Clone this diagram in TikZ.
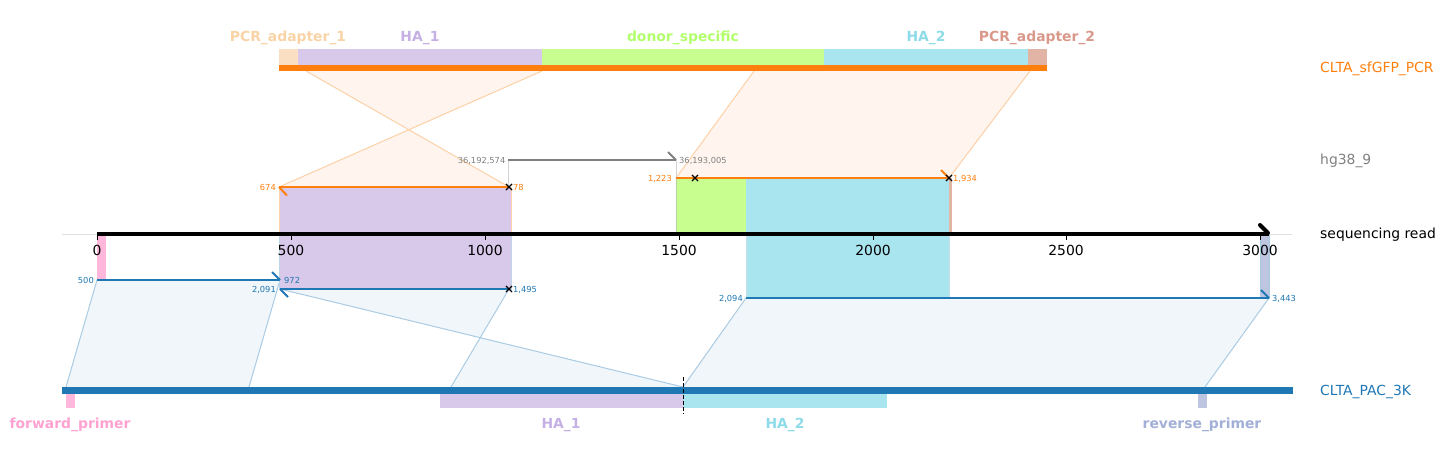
\documentclass[tikz,border=0pt]{standalone}
\usepackage{fontspec}
\setmainfont{DejaVu Sans}
\usetikzlibrary{shapes.misc}
\definecolor{orng}{HTML}{FF7F0E}
\definecolor{blu}{HTML}{1F77B4}
\definecolor{gry}{HTML}{808080}
\definecolor{fPA}{HTML}{FADFC2}
\definecolor{fHA}{HTML}{D8C8EA}
\definecolor{fDS}{HTML}{C7FE8F}
\definecolor{fHB}{HTML}{A9E5EF}
\definecolor{fPB}{HTML}{E2B4A6}
\definecolor{fFP}{HTML}{FFB8DC}
\definecolor{fRP}{HTML}{BDC5E0}
\definecolor{tPA}{HTML}{F9D3A5}
\definecolor{tHA}{HTML}{C5B0E5}
\definecolor{tDS}{HTML}{B2FF6C}
\definecolor{tHB}{HTML}{8DDBE8}
\definecolor{tPB}{HTML}{D9988A}
\definecolor{tFP}{HTML}{FFA2D2}
\definecolor{tRP}{HTML}{A2AFD6}
\definecolor{pfill}{HTML}{FFF5EE}
\definecolor{pedge}{HTML}{FDD0A6}
\definecolor{bfill}{HTML}{F1F6FA}
\definecolor{bedge}{HTML}{AACBE4}
\tikzset{
  lbl/.style={font=\fontsize{13.9}{16}\selectfont, inner sep=0},
  blbl/.style={font=\bfseries\fontsize{13.9}{16}\selectfont, inner sep=0, anchor=base},
  sml/.style={font=\fontsize{8.3}{10}\selectfont, inner sep=0},
  xmk/.style={cross out, draw=black, line width=1.1pt, minimum size=5pt, inner sep=0},
  oseg/.style={orng, line width=2.4pt},
  bseg/.style={blu, line width=2pt},
  hook/.style={line width=2pt, line cap=butt},
}
\begin{document}
\begin{tikzpicture}[x=1pt,y=-1pt]
\useasboundingbox (0,0) rectangle (1446,459);

% ---------- named coordinates ----------
\coordinate (s1a) at (279,187); \coordinate (s1b) at (509,187);
\coordinate (p1a) at (542,71);  \coordinate (p1b) at (306,71);
\coordinate (s2a) at (676,178); \coordinate (s2b) at (949,178);
\coordinate (p2a) at (754,71);  \coordinate (p2b) at (1030,71);
\coordinate (ha) at (508,160);  \coordinate (hb) at (676,160);
\coordinate (bAa) at (97,280);  \coordinate (bAb) at (280,280);
\coordinate (qAa) at (66,387);  \coordinate (qAb) at (249,387);
\coordinate (bBa) at (280,289); \coordinate (bBb) at (509,289);
\coordinate (qBa) at (683,387); \coordinate (qBb) at (451,387);
\coordinate (bCa) at (746,298); \coordinate (bCb) at (1269,298);
\coordinate (qCa) at (683,387); \coordinate (qCb) at (1205,387);

% ---------- top alignment polygons ----------
\fill[pfill] (s1a) -- (p1a) -- (p1b) -- (s1b) -- cycle;
\draw[pedge, line width=1pt] (s1a) -- (p1a) (s1b) -- (p1b);
\fill[pfill] (s2a) -- (p2a) -- (p2b) -- (s2b) -- cycle;
\draw[pedge, line width=1pt] (s2a) -- (p2a) (s2b) -- (p2b);

% ---------- bottom alignment polygons ----------
\fill[bfill] (bAa) -- (bAb) -- (qAb) -- (qAa) -- cycle;
\draw[bedge, line width=1pt] (bAa) -- (qAa) (bAb) -- (qAb);
\fill[bfill] (bBa) -- (qBa) -- (qBb) -- (bBb) -- cycle;
\draw[bedge, line width=1pt] (bBa) -- (qBa) (bBb) -- (qBb);
\fill[bfill] (bCa) -- (bCb) -- (qCb) -- (qCa) -- cycle;
\draw[bedge, line width=1pt] (bCa) -- (qCa) (bCb) -- (qCb);

% ---------- hg38 faint verticals ----------
\draw[gry!35, line width=1pt] (ha) -- (508,234) (hb) -- (676,234);

% ---------- features mapped onto the read ----------
\fill[fHA, draw=orng!35, line width=0.8pt] (279,187) rectangle (511,234);
\fill[fHA, draw=blu!30, line width=0.8pt] (279,234) rectangle (511,289);
\fill[fDS, draw=fDS!70!black!60, line width=0.6pt] (676,178) rectangle (746,234);
\fill[fHB] (746,178) rectangle (949,234);
\fill[fPB] (949,178) rectangle (952,234);
\fill[fHB, draw=blu!25, line width=0.6pt] (746,234) rectangle (949,298);
\fill[fFP] (97,234) rectangle (106,280);
\fill[fRP, draw=blu!40, line width=0.6pt] (1260,234) rectangle (1269,298);

% ---------- top PCR bar ----------
\fill[fPA] (279,49) rectangle (298,64.5);
\fill[fHA] (298,49) rectangle (542,64.5);
\fill[fDS] (542,49) rectangle (824,64.5);
\fill[fHB] (824,49) rectangle (1028,64.5);
\fill[fPB] (1028,49) rectangle (1047,64.5);
\fill[orng] (279,64.5) rectangle (1047,70.8);
\node[blbl, text=tPA] (tpa) at (288,41) {PCR\_adapter\_1};
\node[blbl, text=tHA] (tha) at (420,41) {HA\_1};
\node[blbl, text=tDS] (tds) at (683,41) {donor\_specific};
\node[blbl, text=tHB] (thb) at (926,41) {HA\_2};
\node[blbl, text=tPB] (tpb) at (1037,41) {PCR\_adapter\_2};

% ---------- sequencing read axis ----------
\draw[black!12, line width=0.8pt] (62,234) -- (1292,234);
\draw[black, line width=4pt, line cap=butt] (97,234) -- (1269,234);
\draw[black, line width=4pt, line cap=round] (1260,225) -- (1268,233);
\foreach \v/\xx in {0/97,500/291,1000/485,1500/679,2000/873,2500/1066,3000/1260}{
  \draw[black, line width=0.9pt] (\xx,234) -- (\xx,239.5);
  \node[lbl, anchor=base] (tick\v) at (\xx,255.3) {\v};
}

% ---------- hg38 segment ----------
\draw[gry, line width=2pt] (ha) -- (hb);
\draw[gry, hook] (668,152) -- (hb);
\node[sml, text=gry, anchor=base east] (hl) at (505.5,163) {36,192,574};
\node[sml, text=gry, anchor=base west] (hr) at (679,163) {36,193,005};

% ---------- PCR segments on read ----------
\draw[oseg] (s1a) -- (s1b);
\draw[orng, hook] (s1a) -- (287,195.5);
\node[xmk] (x1) at (s1b) {};
\node[sml, text=orng, anchor=base east] (l674) at (276,190) {674};
\node[sml, text=orng, anchor=base west] (l78) at (513,190) {78};
\draw[oseg] (s2a) -- (s2b);
\draw[orng, hook] (941,170) -- (s2b);
\node[xmk] (x2) at (695,178) {};
\node[xmk] (x3) at (s2b) {};
\node[sml, text=orng, anchor=base east] (l1223) at (672,181) {1,223};
\node[sml, text=orng, anchor=base west] (l1934) at (953,181) {1,934};

% ---------- PAC segments on read ----------
\draw[bseg] (bAa) -- (bAb);
\draw[blu, hook] (272,272) -- (bAb);
\node[sml, text=blu, anchor=base east] (l500) at (94,283) {500};
\node[sml, text=blu, anchor=base west] (l972) at (284,283) {972};
\draw[bseg] (bBa) -- (bBb);
\draw[blu, hook] (bBa) -- (288,297);
\node[xmk] (x4) at (bBb) {};
\node[sml, text=blu, anchor=base east] (l2091) at (276,292) {2,091};
\node[sml, text=blu, anchor=base west] (l1495) at (513,292) {1,495};
\draw[bseg] (bCa) -- (bCb);
\draw[blu, hook] (1261,290) -- (bCb);
\node[sml, text=blu, anchor=base east] (l2094) at (743,301) {2,094};
\node[sml, text=blu, anchor=base west] (l3443) at (1272,301) {3,443};

% ---------- bottom PAC bar ----------
\fill[blu] (62,387) rectangle (1293,394);
\fill[fFP] (66,394) rectangle (75,408);
\fill[fHA] (440,394) rectangle (683,408);
\fill[fHB] (683,394) rectangle (887,408);
\fill[fRP] (1198,394) rectangle (1207,408);
\draw[black, line width=1pt, dashed, dash pattern=on 4pt off 2pt] (683,377) -- (683,414);
\node[blbl, text=tFP] (bfp) at (70,428) {forward\_primer};
\node[blbl, text=tHA] (bha) at (561,428) {HA\_1};
\node[blbl, text=tHB] (bhb) at (785,428) {HA\_2};
\node[blbl, text=tRP] (brp) at (1202,428) {reverse\_primer};

% ---------- track names ----------
\node[lbl, anchor=base west, text=orng] (n1) at (1320,72.3) {CLTA\_sfGFP\_PCR};
\node[lbl, anchor=base west, text=gry] (n2) at (1320,164.3) {hg38\_9};
\node[lbl, anchor=base west, text=black] (n3) at (1320,238.3) {sequencing read};
\node[lbl, anchor=base west, text=blu] (n4) at (1320,395.5) {CLTA\_PAC\_3K};
\end{tikzpicture}
\end{document}
